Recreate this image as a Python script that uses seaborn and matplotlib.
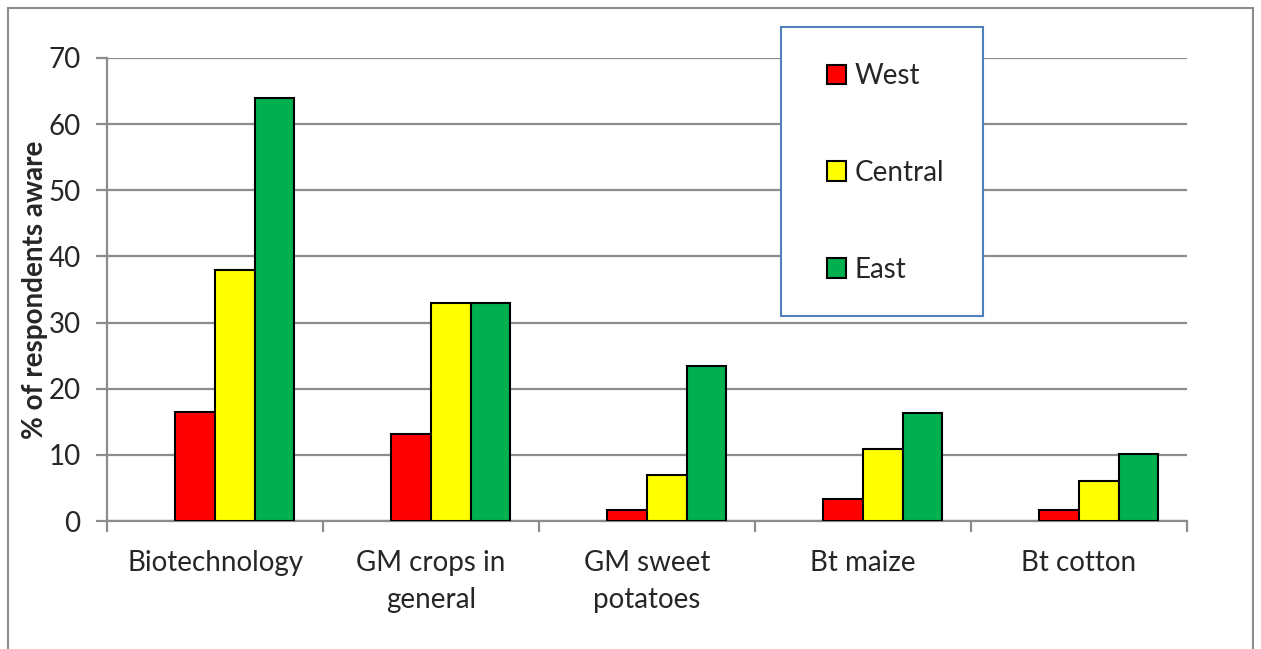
import matplotlib
matplotlib.use("Agg")
import matplotlib.pyplot as plt
from matplotlib.patches import Patch, Rectangle
from matplotlib.ticker import FixedLocator
import seaborn as sns
import pandas as pd

categories = ["Biotechnology", "GM crops in\ngeneral", "GM sweet\npotatoes", "Bt maize", "Bt cotton"]
west = [16.5, 13.2, 1.6, 3.3, 1.6]
central = [37.9, 33.0, 6.9, 10.9, 6.0]
east = [63.9, 32.9, 23.4, 16.3, 10.1]
series_names = ["West", "Central", "East"]
colors = {"West": "#FF0000", "Central": "#FFFF00", "East": "#00B050", " ": "#FFFFFF"}
y_ticks = [0, 10, 20, 30, 40, 50, 60, 70]

rows = []
for name, vals in zip(series_names, [west, central, east]):
    for c, v in zip(categories, vals):
        rows.append({"category": c, "region": name, "value": v})
df = pd.DataFrame(rows)

sns.set_theme(style="white")
plt.rcParams["font.family"] = ["Lato", "DejaVu Sans"]

fig = plt.figure(figsize=(12.61, 6.49), dpi=100)
W, H = 1261, 649
ax = fig.add_axes([107 / W, 1 - 521 / H, (1187 - 107) / W, (521 - 58) / H])

# a blank first slot reproduces the right-shifted bar groups of the original
sns.barplot(data=df, x="category", y="value", hue="region",
            hue_order=[" "] + series_names, order=categories,
            palette=colors, width=0.733, saturation=1, gap=0,
            edgecolor="black", linewidth=1.5, legend=False, ax=ax, zorder=3)

grid_c = "#8C8C8C"
ax.set_ylim(0, 70)
ax.set_xlim(-0.5, len(categories) - 0.5)
ax.set_yticks(y_ticks)
ax.yaxis.grid(True, color=grid_c, linewidth=1.6, zorder=0)
ax.xaxis.grid(False)
ax.set_axisbelow(True)
for s in ["top", "right"]:
    ax.spines[s].set_visible(False)
for s in ["left", "bottom"]:
    ax.spines[s].set_color(grid_c)
    ax.spines[s].set_linewidth(1.6)

ax.tick_params(axis="y", which="major", length=8, width=1.6, color=grid_c,
               labelsize=20, pad=11, left=True)
ax.tick_params(axis="x", which="major", length=0, labelsize=20, pad=21)
ax.xaxis.set_minor_locator(FixedLocator([i - 0.5 for i in range(len(categories) + 1)]))
ax.tick_params(axis="x", which="minor", length=8, width=1.6, color=grid_c, bottom=True)
for lab in ax.get_xticklabels():
    lab.set_linespacing(1.5)
ax.set_xlabel("")
ax.set_ylabel("% of respondents aware", fontsize=20, fontweight="bold", labelpad=0)

# legend box
fig.patches.append(Rectangle((781 / W, 1 - 316 / H), (983 - 781) / W, (316 - 27) / H,
                             transform=fig.transFigure, facecolor="white",
                             edgecolor="#4F81BD", linewidth=1.5, zorder=5))
handles = [Patch(facecolor=colors[n], edgecolor="black", linewidth=1.5) for n in series_names]
leg = fig.legend(handles, series_names, loc="upper left",
                 bbox_to_anchor=(827 / W, 1 - 63 / H), frameon=False, fontsize=20,
                 handlelength=0.7, handleheight=0.7, handletextpad=0.3,
                 labelspacing=2.55, borderaxespad=0, borderpad=0)
leg.set_zorder(6)

# outer chart border
fig.patches.append(Rectangle((8 / W, -0.02), (1253 - 8) / W, 1 - 8 / H + 0.02,
                             transform=fig.transFigure, facecolor="none",
                             edgecolor="#8C8C8C", linewidth=1.5, zorder=0))

fig.savefig("out.png", dpi=100)
